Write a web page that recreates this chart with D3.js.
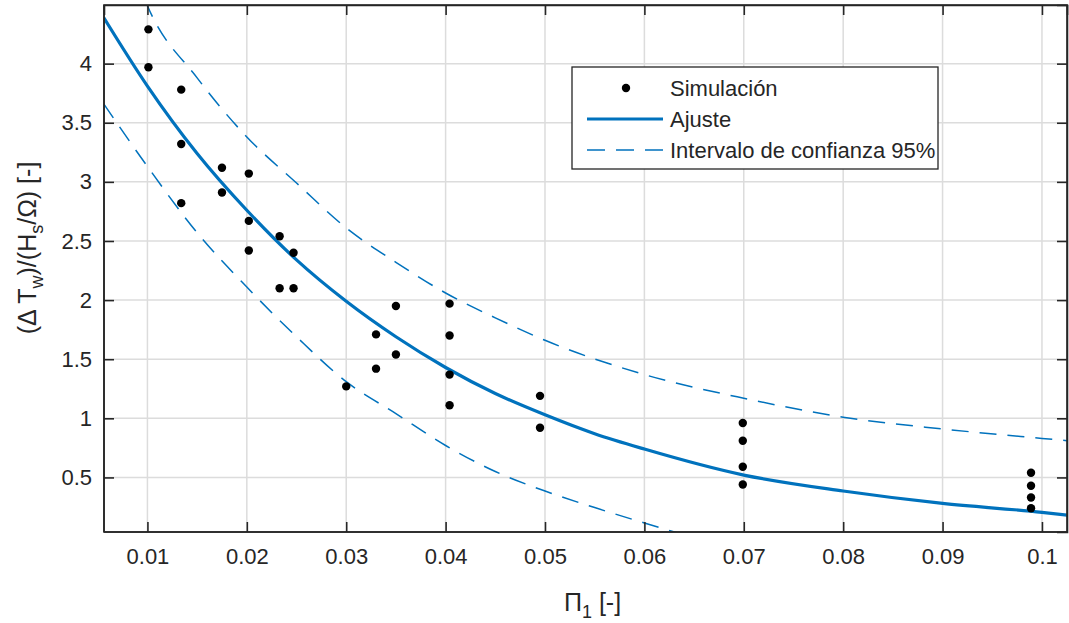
<!DOCTYPE html>
<html>
<head>
<meta charset="utf-8">
<script src="https://cdn.jsdelivr.net/npm/d3@7"></script>
<style>
  body { margin: 0; background: #fff; }
  text { font-family: "Liberation Sans", Arial, sans-serif; fill: #262626; }
</style>
</head>
<body>
<div id="chart"></div>
<script>
// simulation points (Pi_1, dimensionless temperature)
var simX = [0.0101, 0.0101, 0.0134, 0.0134, 0.0134, 0.0175, 0.0175,
  0.0202, 0.0202, 0.0202, 0.0233, 0.0233, 0.0247, 0.0247, 0.0300,
  0.0330, 0.0330, 0.0350, 0.0350, 0.0404, 0.0404, 0.0404, 0.0404,
  0.0495, 0.0495, 0.0699, 0.0699, 0.0699, 0.0699,
  0.0989, 0.0989, 0.0989, 0.0989];
var simY = [4.29, 3.97, 3.78, 3.32, 2.82, 3.12, 2.91,
  3.07, 2.67, 2.42, 2.54, 2.10, 2.40, 2.10, 1.27,
  1.71, 1.42, 1.95, 1.54, 1.97, 1.70, 1.37, 1.11,
  1.19, 0.92, 0.96, 0.81, 0.59, 0.44,
  0.54, 0.43, 0.33, 0.24];

// fitted curve
var fitX = [0.0056, 0.01, 0.015, 0.02, 0.025, 0.03, 0.035, 0.04, 0.045,
  0.05, 0.055, 0.06, 0.07, 0.08, 0.09, 0.1, 0.1026];
var fitY = [4.39, 3.81, 3.24, 2.76, 2.34, 1.99, 1.69, 1.43, 1.21,
  1.03, 0.87, 0.74, 0.52, 0.385, 0.28, 0.205, 0.18];

// 95% confidence bounds
var upX = [0.0098, 0.01, 0.015, 0.02, 0.025, 0.03, 0.035, 0.04, 0.045,
  0.05, 0.06, 0.07, 0.08, 0.09, 0.1, 0.1026];
var upY = [4.53, 4.49, 3.88, 3.38, 2.99, 2.61, 2.32, 2.06, 1.85,
  1.66, 1.37, 1.17, 1.01, 0.91, 0.83, 0.81];
var loX = [0.0056, 0.01, 0.015, 0.02, 0.025, 0.03, 0.035, 0.04, 0.045,
  0.05, 0.055, 0.06, 0.065];
var loY = [3.66, 3.13, 2.57, 2.11, 1.69, 1.31, 1.04, 0.77, 0.55,
  0.385, 0.245, 0.115, -0.01];

var xTicks = [0.01, 0.02, 0.03, 0.04, 0.05, 0.06, 0.07, 0.08, 0.09, 0.1];
var yTicks = [0.5, 1, 1.5, 2, 2.5, 3, 3.5, 4];
var legendLabels = ['Simulación', 'Ajuste', 'Intervalo de confianza 95%'];

var width = 1069, height = 623;
var margin = {top: 5, right: 2, bottom: 91, left: 104};
var w = width - margin.left - margin.right;
var h = height - margin.top - margin.bottom;
var blue = '#0072BD';
var fontSize = 22;

var svg = d3.select('#chart').append('svg')
  .attr('width', width).attr('height', height);

var x = d3.scaleLinear().domain([0.00563, 0.10252]).range([0, w]);
var y = d3.scaleLinear().domain([0.0385, 4.496]).range([h, 0]);

var g = svg.append('g')
  .attr('transform', 'translate(' + margin.left + ',' + margin.top + ')');

svg.append('defs').append('clipPath').attr('id', 'clip')
  .append('rect').attr('width', w).attr('height', h);

// grid
g.append('g').selectAll('line').data(xTicks).enter().append('line')
  .attr('x1', d => x(d)).attr('x2', d => x(d))
  .attr('y1', 0).attr('y2', h)
  .attr('stroke', '#dcdcdc').attr('stroke-width', 1.5);
g.append('g').selectAll('line').data(yTicks).enter().append('line')
  .attr('x1', 0).attr('x2', w)
  .attr('y1', d => y(d)).attr('y2', d => y(d))
  .attr('stroke', '#dcdcdc').attr('stroke-width', 1.5);

// curves
var line = d3.line().curve(d3.curveMonotoneX)
  .x(d => x(d[0])).y(d => y(d[1]));
var plot = g.append('g').attr('clip-path', 'url(#clip)');

plot.append('path').datum(d3.zip(upX, upY))
  .attr('d', line).attr('fill', 'none')
  .attr('stroke', blue).attr('stroke-width', 1.5)
  .attr('stroke-dasharray', '17,11');
plot.append('path').datum(d3.zip(loX, loY))
  .attr('d', line).attr('fill', 'none')
  .attr('stroke', blue).attr('stroke-width', 1.5)
  .attr('stroke-dasharray', '17,11');
plot.append('path').datum(d3.zip(fitX, fitY))
  .attr('d', line).attr('fill', 'none')
  .attr('stroke', blue).attr('stroke-width', 3.2);

plot.selectAll('circle').data(d3.zip(simX, simY)).enter().append('circle')
  .attr('cx', d => x(d[0])).attr('cy', d => y(d[1]))
  .attr('r', 4.2).attr('fill', '#000');

// axes (box with inward ticks on all sides)
var xAxis = d3.axisBottom(x).tickValues(xTicks).tickSize(-10).tickPadding(16)
  .tickFormat(d3.format('~g'));
var yAxis = d3.axisLeft(y).tickValues(yTicks).tickSize(-10).tickPadding(12)
  .tickFormat(d3.format('~g'));

var xa = g.append('g').attr('transform', 'translate(0,' + h + ')').call(xAxis);
var ya = g.append('g').call(yAxis);
g.append('g').call(d3.axisTop(x).tickValues(xTicks).tickSize(-10).tickFormat(''));
g.append('g').attr('transform', 'translate(' + w + ',0)')
  .call(d3.axisRight(y).tickValues(yTicks).tickSize(-10).tickFormat(''));

g.selectAll('.domain').attr('stroke', '#262626').attr('stroke-width', 1.6);
g.selectAll('.tick line').attr('stroke', '#262626').attr('stroke-width', 1.6);
g.selectAll('.tick text').style('font-size', fontSize + 'px')
  .style('font-family', '"Liberation Sans", Arial, sans-serif').attr('fill', '#262626');
// square the domain ends
xa.select('.domain').attr('d', 'M0,0H' + w);
ya.select('.domain').attr('d', 'M0,0V' + h);
g.append('rect').attr('width', w).attr('height', h)
  .attr('fill', 'none').attr('stroke', '#262626').attr('stroke-width', 1.6);

// axis labels
svg.append('text')
  .attr('x', margin.left + w / 2 + 7).attr('y', 611)
  .attr('text-anchor', 'middle').style('font-size', '25px')
  .html('Π<tspan dy="7" style="font-size:18px">1</tspan><tspan dy="-7"> [-]</tspan>');

svg.append('text')
  .attr('transform', 'translate(36,248) rotate(-90)')
  .attr('text-anchor', 'middle').style('font-size', '25px')
  .html('(Δ T<tspan dy="7" style="font-size:18px">w</tspan><tspan dy="-7">)/(H</tspan>' +
        '<tspan dy="7" style="font-size:18px">s</tspan><tspan dy="-7">/Ω) [-]</tspan>');

// legend
var lg = svg.append('g').attr('transform', 'translate(572,67)');
lg.append('rect').attr('width', 366).attr('height', 102)
  .attr('fill', '#fff').attr('stroke', '#262626').attr('stroke-width', 1.3);
var rows = [21, 52, 83];
lg.append('circle').attr('cx', 54).attr('cy', rows[0]).attr('r', 4.2).attr('fill', '#000');
lg.append('line').attr('x1', 15).attr('x2', 91).attr('y1', rows[1]).attr('y2', rows[1])
  .attr('stroke', blue).attr('stroke-width', 3.2);
lg.append('line').attr('x1', 15).attr('x2', 91).attr('y1', rows[2]).attr('y2', rows[2])
  .attr('stroke', blue).attr('stroke-width', 1.5).attr('stroke-dasharray', '18,11');
lg.selectAll('text.lab').data(legendLabels).enter().append('text')
  .attr('class', 'lab')
  .attr('x', 98).attr('y', (d, i) => rows[i] + 8)
  .style('font-size', '22px').attr('fill', '#000')
  .text(d => d);
</script>
</body>
</html>
